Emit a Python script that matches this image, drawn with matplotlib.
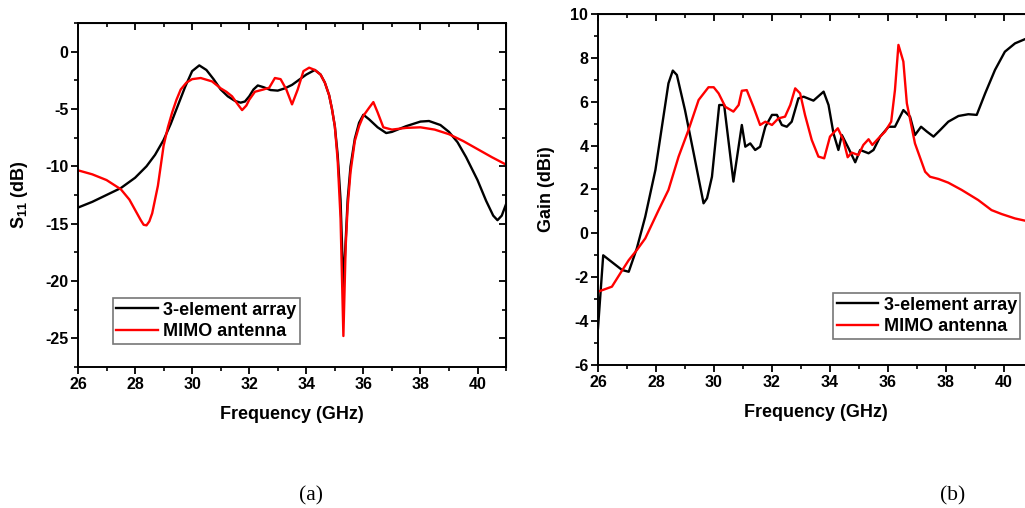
import numpy as np
import matplotlib.pyplot as plt
from matplotlib.ticker import MultipleLocator

plt.rcParams['font.family'] = ['Liberation Sans', 'DejaVu Sans']
plt.rcParams['font.weight'] = 'bold'
plt.rcParams['axes.unicode_minus'] = False
plt.rcParams['mathtext.fontset'] = 'custom'
plt.rcParams['mathtext.rm'] = 'Liberation Sans:bold'
plt.rcParams['mathtext.bf'] = 'Liberation Sans:bold'

labels = ['3-element array', 'MIMO antenna']

# (a) S11
s11_arr_f = [26.0, 26.5, 27.0, 27.5, 28.0, 28.4, 28.7, 29.0, 29.25, 29.5, 29.75, 30.0, 30.25,
             30.5, 30.75, 31.0, 31.25, 31.5, 31.7, 31.85, 32.0, 32.15, 32.3, 32.5, 32.75,
             33.0, 33.25, 33.5, 33.75, 34.0, 34.3, 34.5, 34.65, 34.8, 34.9, 35.0, 35.1,
             35.2, 35.3, 35.38, 35.45, 35.55, 35.7, 35.85, 36.0, 36.2, 36.5, 36.8, 37.0,
             37.5, 38.0, 38.3, 38.7, 39.0, 39.3, 39.6, 40.0, 40.3, 40.55, 40.7, 40.85, 41.0]
s11_arr = [-13.6, -13.1, -12.5, -11.9, -11.0, -10.0, -9.0, -7.7, -6.3, -4.7, -3.1, -1.7, -1.2,
           -1.6, -2.4, -3.3, -3.9, -4.3, -4.45, -4.35, -3.9, -3.3, -2.95, -3.1, -3.35,
           -3.4, -3.2, -2.9, -2.45, -2.0, -1.6, -2.0, -2.7, -3.8, -5.0, -6.5, -9.0,
           -12.9, -20.5, -16.5, -12.9, -10.0, -7.6, -6.2, -5.5, -5.9, -6.6, -7.1, -7.0,
           -6.5, -6.1, -6.05, -6.4, -7.0, -7.9, -9.2, -11.2, -13.0, -14.3, -14.7, -14.3, -13.3]

s11_mimo_f = [26.0, 26.5, 27.0, 27.5, 27.8, 28.0, 28.2, 28.3, 28.4, 28.5, 28.6, 28.8, 29.0,
              29.15, 29.3, 29.45, 29.6, 29.8, 30.0, 30.3, 30.7, 31.0, 31.2, 31.4, 31.6,
              31.75, 31.9, 32.0, 32.2, 32.5, 32.7, 32.9, 33.1, 33.3, 33.5, 33.7, 33.9, 34.1,
              34.3, 34.5, 34.65, 34.8, 34.9, 35.0, 35.1, 35.2, 35.3, 35.38, 35.45, 35.55,
              35.7, 35.85, 36.0, 36.2, 36.35, 36.5, 36.7, 37.0, 37.5, 38.0, 38.5, 39.0,
              39.5, 40.0, 40.5, 41.0]
s11_mimo = [-10.35, -10.7, -11.2, -12.0, -12.9, -13.8, -14.7, -15.1, -15.15, -14.8, -14.1, -11.7, -8.2,
            -6.6, -5.3, -4.2, -3.3, -2.7, -2.4, -2.3, -2.6, -3.2, -3.5, -3.9, -4.6,
            -5.1, -4.7, -4.2, -3.5, -3.3, -3.15, -2.3, -2.4, -3.3, -4.6, -3.3, -1.7, -1.4,
            -1.6, -2.0, -2.7, -3.8, -5.0, -6.5, -9.5, -14.5, -24.8, -17.0, -13.5, -10.5,
            -7.8, -6.5, -5.6, -4.9, -4.4, -5.3, -6.6, -6.8, -6.65, -6.6, -6.8, -7.2,
            -7.8, -8.5, -9.2, -9.85]

# (b) Gain
gain_arr_f = [26.0, 26.18, 26.83, 27.06, 27.34, 27.63, 27.98, 28.43, 28.58, 28.72, 29.0, 29.3,
              29.64, 29.76, 29.93, 30.18, 30.35, 30.67, 30.96, 31.08, 31.25, 31.42, 31.59,
              31.77, 32.0, 32.17, 32.34, 32.51, 32.68, 32.91, 33.09, 33.43, 33.78, 33.95,
              34.12, 34.29, 34.41, 34.64, 34.87, 35.04, 35.33, 35.5, 35.73, 36.02, 36.24,
              36.53, 36.76, 36.93, 37.14, 37.34, 37.57, 37.8, 38.08, 38.43, 38.77, 39.06,
              39.35, 39.69, 40.03, 40.38, 40.72, 41.0]
gain_arr = [-4.33, -1.0, -1.67, -1.75, -0.68, 0.76, 2.89, 6.84, 7.42, 7.22, 5.62, 3.65,
            1.37, 1.6, 2.58, 5.85, 5.85, 2.36, 4.94, 3.95, 4.1, 3.8, 3.95,
            4.86, 5.4, 5.4, 4.94, 4.86, 5.09, 6.15, 6.23, 6.05, 6.46, 5.85,
            4.56, 3.8, 4.48, 3.88, 3.24, 3.8, 3.65, 3.8, 4.41, 4.86, 4.86,
            5.62, 5.32, 4.48, 4.86, 4.64, 4.41, 4.71, 5.09, 5.35, 5.43, 5.4,
            6.38, 7.45, 8.28, 8.66, 8.85, 8.95]

gain_mimo_f = [26.0, 26.48, 26.77, 27.06, 27.34, 27.63, 28.09, 28.43, 28.78, 29.12, 29.47, 29.81,
               29.99, 30.16, 30.39, 30.67, 30.85, 30.96, 31.13, 31.36, 31.59, 31.77, 32.0,
               32.22, 32.45, 32.63, 32.8, 32.97, 33.14, 33.37, 33.6, 33.8, 34.0, 34.27,
               34.46, 34.61, 34.75, 34.98, 35.15, 35.33, 35.46, 35.67, 35.9, 36.11, 36.24,
               36.36, 36.53, 36.65, 36.93, 37.28, 37.45, 37.74, 38.08, 38.54, 39.11, 39.57,
               39.92, 40.38, 40.72, 41.0]
gain_mimo = [-2.66, -2.43, -1.82, -1.22, -0.76, -0.23, 1.06, 1.98, 3.5, 4.71, 6.08, 6.66,
             6.66, 6.38, 5.77, 5.55, 5.85, 6.5, 6.53, 5.77, 4.94, 5.09, 4.94,
             5.24, 5.32, 5.85, 6.61, 6.38, 5.39, 4.26, 3.5, 3.42, 4.41, 4.79,
             4.26, 3.47, 3.68, 3.57, 4.03, 4.29, 4.03, 4.33, 4.64, 5.09, 6.53,
             8.59, 7.83, 5.93, 4.1, 2.81, 2.58, 2.48, 2.31, 1.98, 1.52, 1.06,
             0.88, 0.68, 0.58, 0.5]

fig = plt.figure(figsize=(10.25, 5.08), dpi=100)
ax1 = fig.add_axes([0.0761, 0.2776, 0.4176, 0.6772])
ax2 = fig.add_axes([0.5834, 0.2815, 0.4244, 0.691])


def style(ax, xlim, ylim, ymaj, ymin, ylabel, leg_xy):
    ax.set_xlim(*xlim)
    ax.set_ylim(*ylim)
    ax.xaxis.set_major_locator(MultipleLocator(2))
    ax.xaxis.set_minor_locator(MultipleLocator(1))
    ax.yaxis.set_major_locator(MultipleLocator(ymaj))
    ax.yaxis.set_minor_locator(MultipleLocator(ymin))
    ax.tick_params(which='major', direction='out', length=5, width=1.3, labelsize=11.5, pad=2)
    ax.tick_params(which='minor', direction='out', length=3, width=1.2)
    for s in ax.spines.values():
        s.set_linewidth(1.4)
    for lab in ax.get_xticklabels() + ax.get_yticklabels():
        lab.set_fontweight('bold')
    top = ax.secondary_xaxis('top')
    top.xaxis.set_major_locator(MultipleLocator(2))
    top.xaxis.set_minor_locator(MultipleLocator(1))
    top.tick_params(which='major', direction='in', length=5, width=1.3, labeltop=False)
    top.tick_params(which='minor', direction='in', length=3, width=1.2)
    right = ax.secondary_yaxis('right')
    right.yaxis.set_major_locator(MultipleLocator(ymaj))
    right.yaxis.set_minor_locator(MultipleLocator(ymin))
    right.tick_params(which='major', direction='in', length=5, width=1.3, labelright=False)
    right.tick_params(which='minor', direction='in', length=3, width=1.2)
    ax.set_xlabel('Frequency (GHz)', fontsize=13, fontweight='bold', labelpad=10)
    ax.set_ylabel(ylabel, fontsize=13, fontweight='bold', labelpad=11)
    leg = ax.legend(loc='upper left', bbox_to_anchor=leg_xy, bbox_transform=fig.transFigure,
                    fancybox=False, edgecolor='#777777', framealpha=1,
                    prop={'weight': 'bold', 'size': 13}, handlelength=2.3,
                    handletextpad=0.3, borderpad=0.2, labelspacing=0.25, borderaxespad=0)
    leg.get_frame().set_linewidth(1.2)


ax1.plot(s11_arr_f, s11_arr, color='black', lw=1.7, label=labels[0])
ax1.plot(s11_mimo_f, s11_mimo, color='#ff0000', lw=1.7, label=labels[1])
style(ax1, (26, 41), (-27.5, 2.5), 5, 2.5, r'S$_{11}$ (dB)', (0.110, 0.4134))

ax2.plot(gain_arr_f, gain_arr, color='black', lw=1.7, label=labels[0])
ax2.plot(gain_mimo_f, gain_mimo, color='#ff0000', lw=1.7, label=labels[1])
style(ax2, (26, 41), (-6, 10), 2, 1, 'Gain (dBi)', (0.8127, 0.4232))

fig.text(0.3034, 0.024, '(a)', fontsize=15.5, fontweight='normal', family='Liberation Serif',
         ha='center', va='center')
fig.text(0.9298, 0.024, '(b)', fontsize=15.5, fontweight='normal', family='Liberation Serif',
         ha='center', va='center')

fig.savefig('out.png', dpi=100)
